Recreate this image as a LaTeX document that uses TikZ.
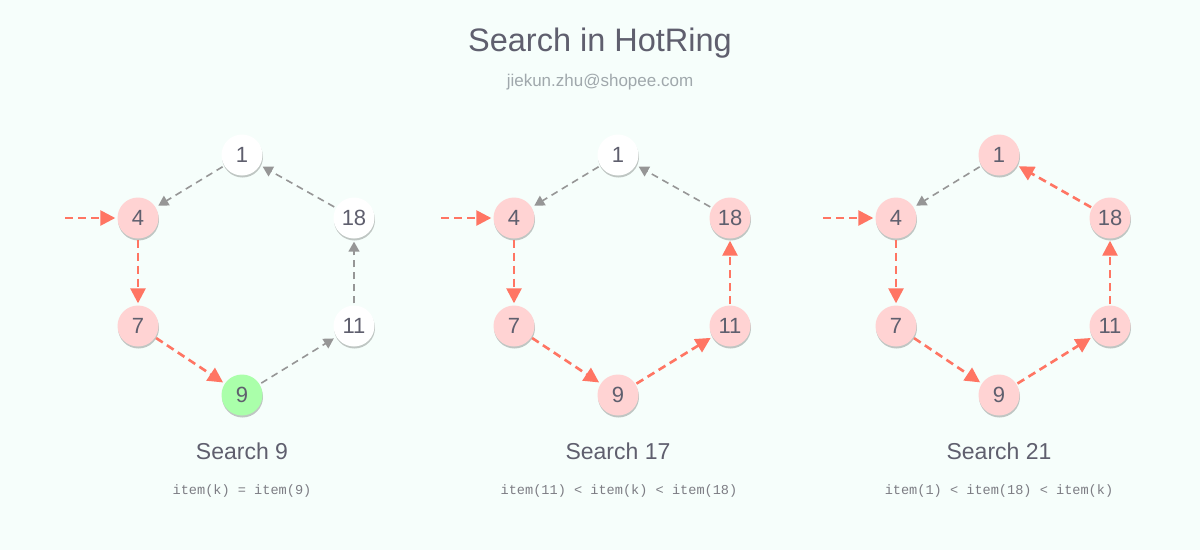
\documentclass[tikz,border=0pt]{standalone}
\usepackage{fontspec}
\setmainfont{Liberation Sans}
\setmonofont{Liberation Mono}
\usetikzlibrary{arrows.meta,shadows}
\definecolor{bgc}{RGB}{246,254,251}
\definecolor{txt}{RGB}{95,95,110}
\definecolor{mail}{RGB}{160,168,172}
\definecolor{pinkc}{RGB}{255,211,211}
\definecolor{greenc}{RGB}{170,255,170}
\definecolor{redc}{RGB}{255,117,99}
\definecolor{grayc}{RGB}{150,150,150}
\definecolor{monoc}{RGB}{125,125,132}
\tikzset{
  ring/.style={circle, minimum size=41pt, inner sep=0pt, draw=none,
    text=txt, font=\fontsize{22}{26}\selectfont,
    drop shadow={shadow xshift=0.5pt, shadow yshift=-2pt, opacity=0.22, fill=black}},
  wnode/.style={ring, fill=white},
  pnode/.style={ring, fill=pinkc},
  gnode/.style={ring, fill=greenc},
  hot/.style={draw=redc, line width=2.6pt, dash pattern=on 8pt off 5pt,
    -{Triangle[length=15pt,width=15pt]}, shorten >=2pt, shorten <=1pt},
  cold/.style={draw=grayc, line width=1.6pt, dash pattern=on 7pt off 5pt,
    -{Triangle[length=10pt,width=11pt]}, shorten >=3pt, shorten <=2pt},
  captext/.style={text=txt, font=\fontsize{23}{27}\selectfont},
  condtext/.style={text=monoc, font=\ttfamily\fontsize{13.6}{16}\selectfont}
}
\begin{document}
\begin{tikzpicture}[x=1pt,y=-1pt]
\fill[bgc] (0,0) rectangle (1200,550);
\useasboundingbox (0,0) rectangle (1200,550);
\node[text=txt, font=\fontsize{32.5}{38}\selectfont] (title) at (600,43) {Search in HotRing};
\node[text=mail, font=\fontsize{17}{20}\selectfont] (mail) at (600,82) {jiekun.zhu@shopee.com};

% Panel 1
\node[wnode] (a1) at (242,155) {1};
\node[pnode] (a4) at (138,218) {4};
\node[wnode] (a18) at (354,218) {18};
\node[pnode] (a7) at (138,326) {7};
\node[wnode] (a11) at (354,326) {11};
\node[gnode] (a9) at (242,395) {9};
\coordinate (ain) at (64,218);
\draw[hot] (ain) -- (a4);
\draw[hot] (a4) -- (a7);
\draw[hot] (a7) -- (a9);
\draw[cold] (a9) -- (a11);
\draw[cold] (a11) -- (a18);
\draw[cold] (a18) -- (a1);
\draw[cold] (a1) -- (a4);
\node[captext] (acap) at (242,451) {Search 9};
\node[condtext] (acond) at (242,491) {item(k) = item(9)};

% Panel 2
\node[wnode] (b1) at (618,155) {1};
\node[pnode] (b4) at (514,218) {4};
\node[pnode] (b18) at (730,218) {18};
\node[pnode] (b7) at (514,326) {7};
\node[pnode] (b11) at (730,326) {11};
\node[pnode] (b9) at (618,395) {9};
\coordinate (bin) at (440,218);
\draw[hot] (bin) -- (b4);
\draw[hot] (b4) -- (b7);
\draw[hot] (b7) -- (b9);
\draw[hot] (b9) -- (b11);
\draw[hot] (b11) -- (b18);
\draw[cold] (b18) -- (b1);
\draw[cold] (b1) -- (b4);
\node[captext] (bcap) at (618,451) {Search 17};
\node[condtext] (bcond) at (619,491) {item(11) < item(k) < item(18)};

% Panel 3
\node[pnode] (c1) at (999,155) {1};
\node[pnode] (c4) at (896,218) {4};
\node[pnode] (c18) at (1110,218) {18};
\node[pnode] (c7) at (896,326) {7};
\node[pnode] (c11) at (1110,326) {11};
\node[pnode] (c9) at (999,395) {9};
\coordinate (cin) at (822,218);
\draw[hot] (cin) -- (c4);
\draw[hot] (c4) -- (c7);
\draw[hot] (c7) -- (c9);
\draw[hot] (c9) -- (c11);
\draw[hot] (c11) -- (c18);
\draw[hot] (c18) -- (c1);
\draw[cold] (c1) -- (c4);
\node[captext] (ccap) at (999,451) {Search 21};
\node[condtext] (ccond) at (999,491) {item(1) < item(18) < item(k)};
\end{tikzpicture}
\end{document}
